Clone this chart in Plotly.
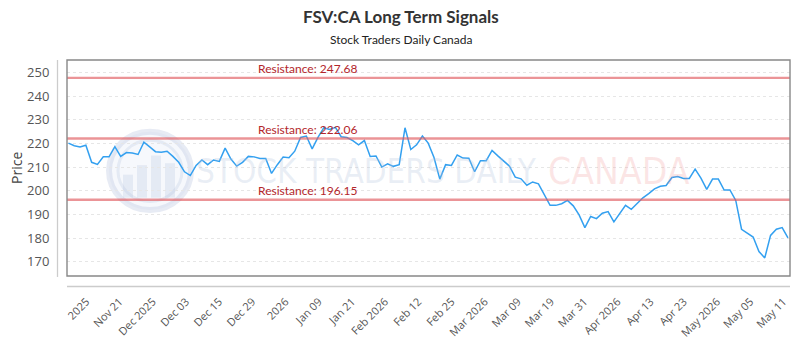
import plotly.graph_objects as go

# ---------------- data ----------------
prices = [
    220.1, 219.0, 218.5, 219.2, 212.0, 211.1, 214.3, 214.3, 218.6, 214.5,
    216.1, 215.9, 215.3, 220.5, 218.5, 216.5, 216.3, 216.7, 214.5, 212.0,
    208.0, 206.4, 210.7, 213.0, 211.0, 213.0, 212.4, 218.0, 213.4, 210.4,
    212.0, 214.5, 214.3, 213.6, 213.6, 207.3, 211.0, 214.2, 213.9, 216.7,
    222.5, 223.1, 217.7, 222.5, 226.6, 225.9, 226.8, 222.8, 222.5, 221.2,
    219.4, 221.2, 214.5, 214.7, 210.0, 211.4, 210.3, 211.0, 226.6, 217.4,
    219.4, 223.1, 220.1, 214.0, 204.9, 211.0, 210.7, 215.1, 213.8, 213.7,
    208.0, 212.7, 212.7, 217.0, 214.7, 212.7, 210.4, 205.7, 205.0, 202.3,
    203.7, 202.9, 198.4, 193.8, 193.8, 194.5, 195.9, 193.6, 189.8, 184.4,
    189.1, 188.2, 190.5, 191.2, 186.8, 190.2, 193.8, 192.1, 194.5, 197.0,
    198.8, 200.8, 201.9, 202.2, 205.6, 206.0, 205.2, 205.2, 209.1, 205.3,
    200.6, 204.9, 204.9, 200.3, 200.3, 195.9, 183.7, 182.1, 180.4, 174.3,
    171.6, 181.1, 183.7, 184.4, 180.1,
]
resistance_levels = [247.68, 222.06, 196.15]
tick_labels = [
    "2025", "Nov 21", "Dec 2025", "Dec 03", "Dec 15", "Dec 29", "2026",
    "Jan 09", "Jan 21", "Feb 2026", "Feb 12", "Feb 25", "Mar 2026", "Mar 09",
    "Mar 19", "Mar 31", "Apr 2026", "Apr 13", "Apr 23", "May 2026", "May 05",
    "May 11",
]
y_ticks = [170, 180, 190, 200, 210, 220, 230, 240, 250]

title_text = "FSV:CA Long Term Signals"
subtitle_text = "Stock Traders Daily Canada"

# ---------------- figure ----------------
W, H = 800, 350
ML, MR, MT, MB = 67, 10, 60, 64
PW, PH = W - ML - MR, H - MT - MB


def px_x(px):
    return (px - ML) / PW


def px_y(py):
    return (H - MB - py) / PH


n = len(prices)
x = list(range(n))
first_tick, tick_step = 3.1, 5.72
tick_vals = [first_tick + tick_step * k for k in range(len(tick_labels))]

fig = go.Figure()
fig.add_trace(go.Scatter(
    x=x, y=prices, mode="lines",
    line=dict(color="#33a0f0", width=1.5),
    hoverinfo="skip", showlegend=False,
))

shapes = []
annotations = []

# watermark logo (circle + bars)
cx, cy, r = 150, 176, 41
shapes.append(dict(type="circle", xref="paper", yref="paper", layer="below",
                   x0=px_x(cx - r), x1=px_x(cx + r), y0=px_y(cy + r), y1=px_y(cy - r),
                   line=dict(color="rgba(175,190,220,0.30)", width=6),
                   fillcolor="rgba(220,228,242,0.25)"))
shapes.append(dict(type="circle", xref="paper", yref="paper", layer="below",
                   x0=px_x(cx - r + 9), x1=px_x(cx + r - 9), y0=px_y(cy + r - 9), y1=px_y(cy - r + 9),
                   line=dict(color="rgba(175,190,220,0.25)", width=3),
                   fillcolor="rgba(0,0,0,0)"))
for bx, bt in [(128, 180), (142, 170), (156, 160), (170, 168)]:
    shapes.append(dict(type="rect", xref="paper", yref="paper", layer="below",
                       x0=px_x(bx - 5), x1=px_x(bx + 5), y0=px_y(cy + 28), y1=px_y(bt),
                       line=dict(width=0), fillcolor="rgba(175,190,220,0.25)"))

annotations.append(dict(text="STOCK TRADERS DAILY", xref="paper", yref="paper",
                        x=px_x(366), y=px_y(177), xanchor="center", yanchor="middle",
                        showarrow=False,
                        font=dict(family="Liberation Sans Narrow, DejaVu Sans Condensed, sans-serif",
                                  size=33, color="rgba(180,195,220,0.28)")))
annotations.append(dict(text="CANADA", xref="paper", yref="paper",
                        x=px_x(619), y=px_y(177), xanchor="center", yanchor="middle",
                        showarrow=False,
                        font=dict(family="Liberation Sans Narrow, DejaVu Sans Condensed, sans-serif",
                                  size=37, color="rgba(240,140,140,0.22)")))

# resistance lines and labels
for lvl in resistance_levels:
    shapes.append(dict(type="line", xref="paper", yref="y", x0=0, x1=1, y0=lvl, y1=lvl,
                       line=dict(color="rgba(225,90,95,0.65)", width=2.4), layer="above"))
    annotations.append(dict(text=f"Resistance: {lvl:.2f}", xref="paper", yref="y",
                            x=px_x(256), y=lvl, xanchor="left", yanchor="bottom",
                            yshift=0, showarrow=False,
                            font=dict(family="Lato, Open Sans, sans-serif", size=12,
                                      color="#b3262b")))

# plot frame
shapes.append(dict(type="rect", xref="paper", yref="paper", x0=0, x1=1, y0=0, y1=1,
                   line=dict(color="#888888", width=1.4), layer="above"))
# detached axis lines
shapes.append(dict(type="line", xref="paper", yref="paper",
                   x0=px_x(57.5), x1=px_x(57.5), y0=px_y(287), y1=px_y(60),
                   line=dict(color="#cccccc", width=1.3)))
shapes.append(dict(type="line", xref="paper", yref="paper",
                   x0=px_x(67), x1=px_x(790), y0=px_y(297), y1=px_y(297),
                   line=dict(color="#cccccc", width=1.3)))

# titles
annotations.append(dict(text=f"<b>{title_text}</b>", xref="paper", yref="paper",
                        x=px_x(401), y=px_y(15), xanchor="center", yanchor="middle",
                        showarrow=False,
                        font=dict(family="Lato, sans-serif", size=17, color="#333333")))
annotations.append(dict(text=subtitle_text, xref="paper", yref="paper",
                        x=px_x(401), y=px_y(39), xanchor="center", yanchor="middle",
                        showarrow=False,
                        font=dict(family="Lato, sans-serif", size=12, color="#222222")))
annotations.append(dict(text="Price", xref="paper", yref="paper",
                        x=px_x(16), y=0.5, xanchor="center", yanchor="middle",
                        textangle=-90, showarrow=False,
                        font=dict(family="Open Sans, sans-serif", size=14, color="#444444")))

fig.update_layout(
    width=W, height=H,
    margin=dict(l=ML, r=MR, t=MT, b=MB, pad=0),
    paper_bgcolor="white", plot_bgcolor="white",
    shapes=shapes, annotations=annotations,
    xaxis=dict(range=[-0.25, n - 1 + 0.35], showgrid=False, zeroline=False, showline=False,
               tickmode="array", tickvals=tick_vals, ticktext=tick_labels,
               tickangle=-45, ticks="outside", ticklen=14, tickcolor="rgba(0,0,0,0)",
               tickfont=dict(family="Open Sans, sans-serif", size=11, color="#555555"),
               fixedrange=True),
    yaxis=dict(range=[163.94, 255.25], tickmode="array", tickvals=y_ticks,
               showgrid=True, gridcolor="#e6e6e6", griddash="3px,3px", gridwidth=1,
               zeroline=False, showline=False,
               ticks="outside", ticklen=14, tickcolor="rgba(0,0,0,0)",
               tickfont=dict(family="Open Sans, sans-serif", size=13, color="#555555"),
               fixedrange=True),
    showlegend=False,
)

fig.write_html("out.html", include_plotlyjs=True, config=dict(displayModeBar=False))
